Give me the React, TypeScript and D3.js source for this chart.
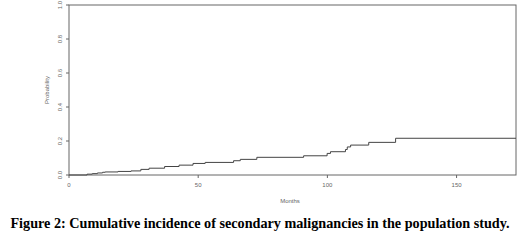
import React from "react";
import * as d3 from "d3";

const months = [0, 7, 9, 11, 13, 14, 19, 24, 27.8, 31, 37, 42.6, 48, 52.7, 63.7, 66.3, 72.7, 90.8, 99.9, 101.2, 107, 107.7, 109, 116, 126.4];
const probability = [0, 0.005, 0.008, 0.012, 0.016, 0.018, 0.021, 0.024, 0.033, 0.04, 0.05, 0.058, 0.068, 0.074, 0.084, 0.092, 0.104, 0.113, 0.127, 0.137, 0.15, 0.165, 0.176, 0.192, 0.216];
const maxMonth = 173;
const xTicks = [0, 50, 100, 150];
const yTicks = [0, 0.2, 0.4, 0.6, 0.8, 1.0];
const caption = "Figure 2: Cumulative incidence of secondary malignancies in the population study.";

export default function App() {
  const W = 520, H = 241;
  const left = 69, right = 516, top = 5, bottom = 175;
  const x = d3.scaleLinear().domain([0, maxMonth]).range([left, right]);
  const y = d3.scaleLinear().domain([0, 1]).range([bottom, top]);
  const pts: [number, number][] = months.map((m, i) => [m, probability[i]]);
  pts.push([maxMonth, probability[probability.length - 1]]);
  const line = d3.line<[number, number]>().x(d => x(d[0])).y(d => y(d[1])).curve(d3.curveStepAfter);
  const axisColor = "#666";
  const font = "Liberation Sans, Arial, sans-serif";
  return (
    <svg width={W} height={H} style={{ position: "absolute", left: 0, top: 0, background: "#fff" }}>
      <rect x={0} y={0} width={W} height={H} fill="#fff" />
      <rect x={left} y={top} width={right - left} height={bottom - top} fill="none" stroke={axisColor} strokeWidth={1} />
      {xTicks.map(t => (
        <g key={"x" + t}>
          <line x1={x(t)} x2={x(t)} y1={bottom} y2={bottom + 3} stroke={axisColor} />
          <text x={x(t)} y={bottom + 12} fontSize={6} textAnchor="middle" fill="#666" fontFamily={font}>{t}</text>
        </g>
      ))}
      {yTicks.map(t => (
        <g key={"y" + t}>
          <line x1={left - 3} x2={left} y1={y(t)} y2={y(t)} stroke={axisColor} />
          <text transform={`translate(${left - 7},${y(t)}) rotate(-90)`} fontSize={6} textAnchor="middle" fill="#666" fontFamily={font}>{t.toFixed(1)}</text>
        </g>
      ))}
      <text transform={`translate(49,90) rotate(-90)`} fontSize={6} textAnchor="middle" fill="#666" fontFamily={font}>Probability</text>
      <text x={290} y={203} fontSize={6} textAnchor="middle" fill="#666" fontFamily={font}>Months</text>
      <path d={line(pts) ?? ""} fill="none" stroke="#444" strokeWidth={1} />
      <text x={260} y={228} fontSize={14.2} fontWeight="bold" textAnchor="middle" fill="#000" fontFamily="Liberation Serif, Times New Roman, serif">{caption}</text>
    </svg>
  );
}
